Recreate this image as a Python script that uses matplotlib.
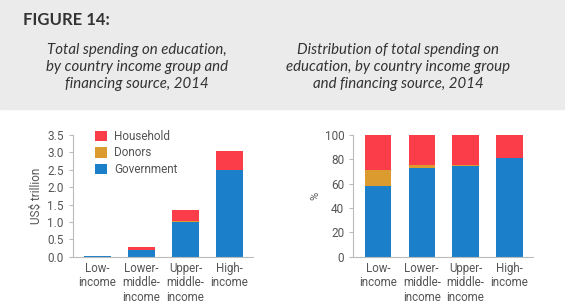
import matplotlib.pyplot as plt
import numpy as np

groups = ["Low-\nincome", "Lower-\nmiddle-\nincome", "Upper-\nmiddle-\nincome", "High-\nincome"]

# US$ trillion
gov_abs = [0.015, 0.195, 1.01, 2.48]
don_abs = [0.003, 0.008, 0.003, 0.0]
hh_abs = [0.007, 0.067, 0.337, 0.55]

# % of total
gov_pct = [58, 73, 74.5, 81.5]
don_pct = [13, 2.5, 0.5, 0.0]
hh_pct = [29, 24.5, 25, 18.5]

c_gov = "#1b80c9"
c_don = "#dc9b2f"
c_hh = "#fb3c49"
grey = "#555555"
font = ["Roboto", "DejaVu Sans"]

fig = plt.figure(figsize=(5.65, 3.08), dpi=100)
fig.patch.set_facecolor("white")
fig.patches.append(plt.Rectangle((0, 1 - 109 / 308), 1, 109 / 308, transform=fig.transFigure,
                                 color="#ebebeb", zorder=0))

fig.text(23 / 565, 1 - 20 / 308, "FIGURE 14:", fontsize=12, fontweight="bold",
         color="#333333", family="Lato", va="center")
fig.text(137 / 565, 1 - 67 / 308,
         "Total spending on education,\nby country income group and\nfinancing source, 2014",
         fontsize=10.8, style="italic", color="#333333", family="Lato",
         ha="center", va="center", linespacing=1.3)
fig.text(398 / 565, 1 - 67 / 308,
         "Distribution of total spending on\neducation, by country income group\nand financing source, 2014",
         fontsize=10.8, style="italic", color="#333333", family="Lato",
         ha="center", va="center", linespacing=1.3)

x = np.arange(len(groups))
w = 0.6


def style_ax(ax):
    for s in ["top", "right"]:
        ax.spines[s].set_visible(False)
    for s in ["left", "bottom"]:
        ax.spines[s].set_color("#bbbbbb")
        ax.spines[s].set_linewidth(0.8)
    ax.tick_params(axis="y", colors="#bbbbbb", labelcolor=grey, length=3, labelsize=8.5)
    ax.tick_params(axis="x", length=0, labelcolor=grey, labelsize=8.3, pad=4)
    for lab in ax.get_xticklabels() + ax.get_yticklabels():
        lab.set_family(font)
    ax.set_xlim(-0.56, 3.53)


ax1 = fig.add_axes([72.7 / 565, 0.1666, (253 - 72.7) / 565, 0.395])
ax1.bar(x, gov_abs, w, color=c_gov, label="Government")
ax1.bar(x, don_abs, w, bottom=gov_abs, color=c_don, label="Donors")
ax1.bar(x, hh_abs, w, bottom=np.add(gov_abs, don_abs), color=c_hh, label="Household")
ax1.set_ylim(0, 3.5)
ax1.set_yticks(np.arange(0, 3.51, 0.5))
ax1.set_yticklabels([f"{v:.1f}" for v in np.arange(0, 3.51, 0.5)])
ax1.set_xticks(x)
ax1.set_xticklabels(groups, linespacing=1.12)
ax1.set_ylabel("US$ trillion", color=grey, fontsize=8.5, family=font, labelpad=3)
style_ax(ax1)
h, l = ax1.get_legend_handles_labels()
leg = ax1.legend(h[::-1], l[::-1], loc="upper left", bbox_to_anchor=(0.065, 1.13), frameon=False,
                 handlelength=1.0, handleheight=1.0, handletextpad=0.6, labelspacing=0.3,
                 prop={"family": font, "size": 8.5})
for t in leg.get_texts():
    t.set_color(grey)

ax2 = fig.add_axes([353.3 / 565, 0.1666, (532.7 - 353.3) / 565, 0.395])
ax2.bar(x, gov_pct, w, color=c_gov)
ax2.bar(x, don_pct, w, bottom=gov_pct, color=c_don)
ax2.bar(x, hh_pct, w, bottom=np.add(gov_pct, don_pct), color=c_hh)
ax2.set_ylim(0, 100)
ax2.set_yticks(range(0, 101, 20))
ax2.set_xticks(x)
ax2.set_xticklabels(groups, linespacing=1.12)
ax2.set_ylabel("%", color=grey, fontsize=8, family=font, labelpad=3)
style_ax(ax2)

fig.savefig("out.png", dpi=100)
